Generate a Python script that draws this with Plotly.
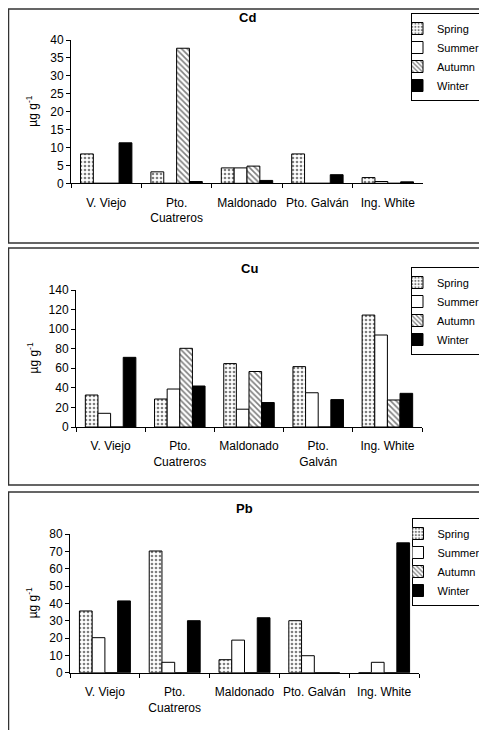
import plotly.graph_objects as go

W, H = 479, 722
OFF = 8  # page body margin of the browser

seasons = ["Spring", "Summer", "Autumn", "Winter"]

sites_cd = ["V. Viejo", "Pto.<br>Cuatreros", "Maldonado", "Pto. Galván", "Ing. White"]
sites_cu = ["V. Viejo", "Pto.<br>Cuatreros", "Maldonado", "Pto.<br>Galván", "Ing. White"]
sites_pb = ["V. Viejo", "Pto.<br>Cuatreros", "Maldonado", "Pto. Galván", "Ing. White"]

cd_spring = [8.2, 3.2, 4.3, 8.2, 1.6]
cd_summer = [0, 0, 4.3, 0, 0.5]
cd_autumn = [0, 37.7, 4.8, 0, 0]
cd_winter = [11.3, 0.5, 0.8, 2.4, 0.4]

cu_spring = [32.7, 28.6, 64.8, 61.7, 114.4]
cu_summer = [14, 38.8, 18.2, 35, 94]
cu_autumn = [0, 80.4, 56.7, 0, 27.6]
cu_winter = [71.2, 41.9, 25, 28, 34.4]

pb_spring = [35.6, 70.2, 7.5, 30, 0]
pb_summer = [20.2, 6, 18.8, 9.8, 6]
pb_autumn = [0, 0, 0, 0, 0]
pb_winter = [41.4, 30, 31.7, 0, 74.9]

FONT = "Liberation Sans, Arial, sans-serif"

styles = {
    "Spring": dict(color="white", line=dict(color="black", width=1),
                   pattern=dict(shape=".", fgcolor="black", bgcolor="white", size=4, solidity=0.35)),
    "Summer": dict(color="white", line=dict(color="black", width=1)),
    "Autumn": dict(color="white", line=dict(color="black", width=1),
                   pattern=dict(shape="\\", fgcolor="black", bgcolor="white", size=4, solidity=0.4)),
    "Winter": dict(color="black", line=dict(color="black", width=1)),
}

def px(x):
    return (x - OFF) / W

def py(y):
    return 1 - (y - OFF) / H

panels = [
    dict(name="Cd", sites=sites_cd, data=[cd_spring, cd_summer, cd_autumn, cd_winter],
         xd=(71, 423), yd=(183.3, 40), rng=[0, 40], dtick=5, top=9, bot=243, title_y=18,
         leg=(411, 13)),
    dict(name="Cu", sites=sites_cu, data=[cu_spring, cu_summer, cu_autumn, cu_winter],
         xd=(76, 422), yd=(427, 290), rng=[0, 140], dtick=20, top=248, bot=485, title_y=268,
         leg=(411, 267)),
    dict(name="Pb", sites=sites_pb, data=[pb_spring, pb_summer, pb_autumn, pb_winter],
         xd=(70, 419), yd=(672.7, 534), rng=[0, 80], dtick=10, top=492, bot=760, title_y=508,
         leg=(411.5, 518)),
]

fig = go.Figure()
layout = dict(
    width=W, height=H,
    margin=dict(l=0, r=0, t=0, b=0, autoexpand=False),
    paper_bgcolor="white", plot_bgcolor="white",
    bargap=0.27, bargroupgap=0, barmode="group",
    font=dict(family=FONT, size=12, color="black"),
    shapes=[], annotations=[],
)

for i, p in enumerate(panels):
    k = "" if i == 0 else str(i + 1)
    xa, ya = "x" + k, "y" + k
    lg = "legend" + k
    for s, vals in zip(seasons, p["data"]):
        fig.add_trace(go.Bar(x=p["sites"], y=vals, name=s, marker=styles[s],
                             xaxis=xa, yaxis=ya, legend=lg, showlegend=True))
    layout["xaxis" + k] = dict(
        domain=[px(p["xd"][0]), px(p["xd"][1])], anchor=ya,
        type="category", showline=True, linecolor="black", linewidth=1,
        ticks="outside", tickson="boundaries", ticklen=4, tickcolor="black",
        tickangle=0, ticklabelstandoff=8,
        showgrid=False, zeroline=False, tickfont=dict(size=12), fixedrange=True,
    )
    layout["yaxis" + k] = dict(
        domain=[py(p["yd"][0]), py(p["yd"][1])], anchor=xa,
        range=p["rng"], dtick=p["dtick"], tick0=0,
        showline=True, linecolor="black", linewidth=1,
        ticks="outside", ticklen=4, tickcolor="black",
        showgrid=False, zeroline=False, tickfont=dict(size=12), fixedrange=True,
    )
    layout[lg] = dict(
        x=px(p["leg"][0]), y=py(p["leg"][1]), xanchor="left", yanchor="top",
        bordercolor="black", borderwidth=1, bgcolor="white",
        font=dict(size=11, family=FONT), tracegroupgap=0, indentation=-15,
        itemwidth=30,
    )
    layout["shapes"].append(dict(
        type="rect", xref="paper", yref="paper",
        x0=px(8.5), x1=px(500), y0=py(p["bot"]), y1=py(p["top"]),
        line=dict(color="#333333", width=1.5), fillcolor="rgba(0,0,0,0)", layer="below"))
    layout["annotations"].append(dict(
        text="<b>%s</b>" % p["name"], xref="paper", yref="paper",
        x=px((p["xd"][0] + p["xd"][1]) / 2), y=py(p["title_y"]),
        xanchor="center", yanchor="middle", showarrow=False,
        font=dict(size=13, family=FONT)))
    layout["annotations"].append(dict(
        text="µg g<sup>-1</sup>", xref="paper", yref="paper",
        x=px(32), y=py((p["yd"][0] + p["yd"][1]) / 2), textangle=-90,
        xanchor="center", yanchor="middle", showarrow=False,
        font=dict(size=12, family=FONT)))

fig.update_layout(**layout)
fig.write_html("out.html")
